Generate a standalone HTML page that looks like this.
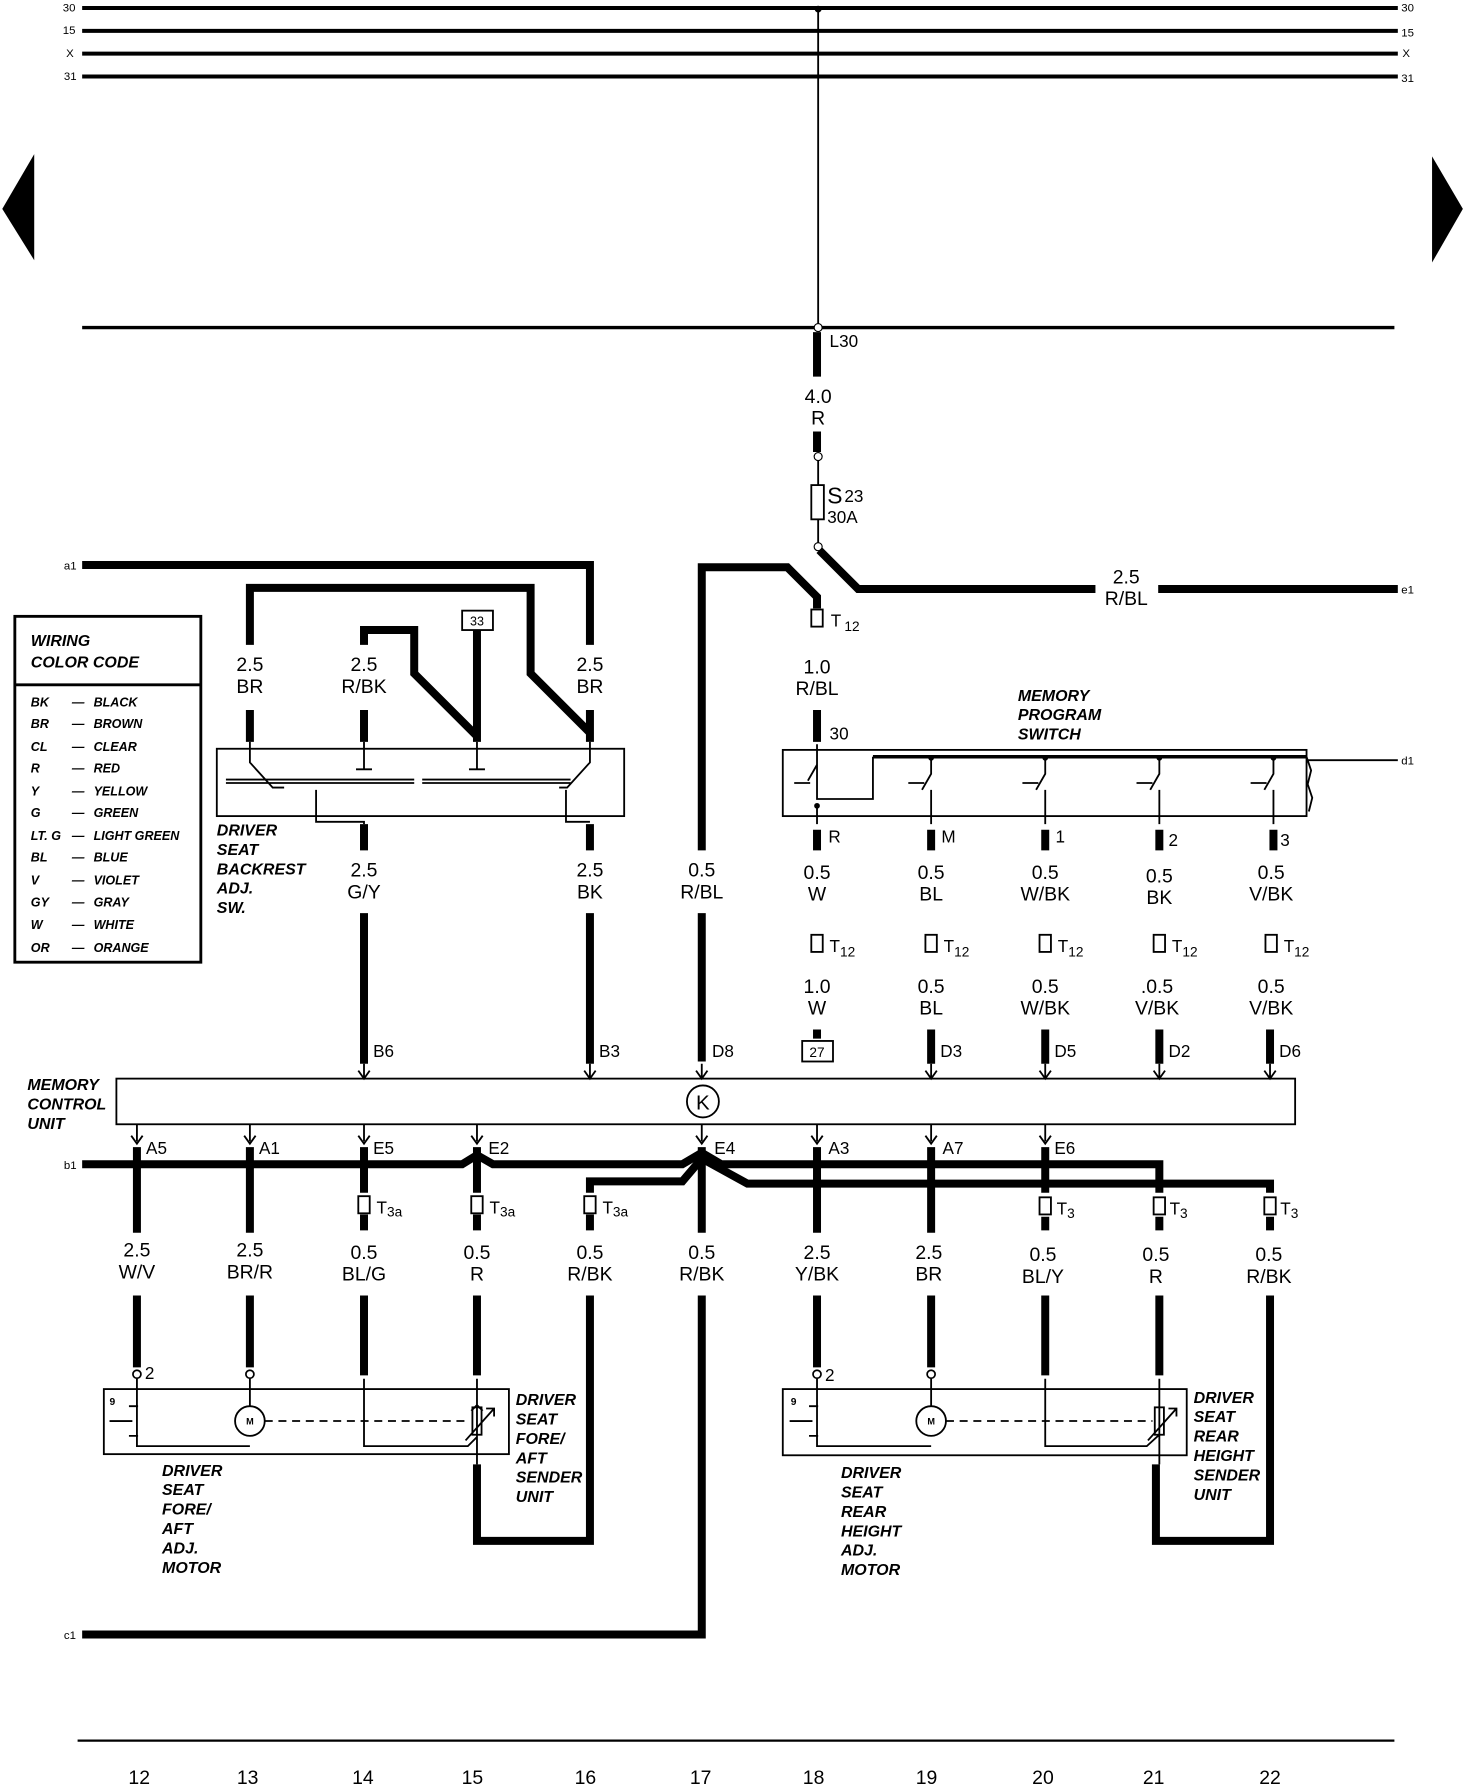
<!DOCTYPE html>
<html><head><meta charset="utf-8"><style>
html,body{margin:0;padding:0;background:#fff}
svg{display:block}
text{font-family:"Liberation Sans",sans-serif;fill:#000}
.l{font-size:17px;text-anchor:middle}
.s{font-size:15px}
.i{font-size:14px;font-weight:bold;font-style:italic}
.g{font-size:11px;font-weight:bold;font-style:italic}
.t{stroke:#000;stroke-width:7;fill:none}
.n{stroke:#000;stroke-width:1.6;fill:none}
.b{stroke:#000;stroke-width:3.5;fill:none}
</style></head><body>
<svg width="1472" height="1784" viewBox="0 0 1290 1563" preserveAspectRatio="none" xmlns="http://www.w3.org/2000/svg">
<rect width="1290" height="1563" fill="#fff"/>
<g class="b"><path d="M72 7H1225M72 27H1225M72 47H1225M72 67H1225"/></g>
<g font-size="10"><text x="55" y="10">30</text><text x="55" y="30">15</text><text x="58" y="50">X</text><text x="56" y="70">31</text>
<text x="1228" y="10">30</text><text x="1228" y="32">15</text><text x="1229" y="50">X</text><text x="1228" y="72">31</text></g>
<path class="n" d="M717 7V287"/><circle cx="717" cy="8" r="3"/>
<polygon points="2,183 30,135 30,228"/><polygon points="1255,137 1282,183 1255,230"/>
<path d="M72 287H1222" stroke="#000" stroke-width="3"/>
<circle cx="717" cy="287" r="3.5" fill="#fff" stroke="#000"/>
<path class="t" d="M716 291V330M716 378V396"/>
<text x="727" y="304" class="s">L30</text>
<text x="717" y="353" class="l">4.0</text><text x="717" y="372" class="l">R</text>
<circle cx="717" cy="400" r="3.5" fill="#fff" stroke="#000"/>
<path class="n" d="M717 403V425M717 455V476"/><rect x="711" y="425" width="11" height="30" class="n"/>
<text x="725" y="441" font-size="20">S</text><text x="740" y="440" class="s">23</text><text x="725" y="458" class="s">30A</text>
<circle cx="717" cy="479" r="3.5" fill="#fff" stroke="#000"/>
<path class="t" d="M718 482L752 516H960M1015 516H1225"/>
<text x="987" y="511" class="l">2.5</text><text x="987" y="530" class="l">R/BL</text>
<text x="1228" y="520" font-size="10">e1</text>
<path class="t" d="M615 745V497H690L716 523V533M615 800V930"/>
<rect x="711" y="534" width="10" height="15" class="n"/><text x="728" y="549" class="s">T</text><text x="740" y="553" font-size="12">12</text>
<text x="716" y="590" class="l">1.0</text><text x="716" y="609" class="l">R/BL</text>
<path class="t" d="M716 622V650"/><text x="727" y="648" class="s">30</text>
<text x="892" y="614" class="i">MEMORY</text><text x="892" y="631" class="i">PROGRAM</text><text x="892" y="648" class="i">SWITCH</text>
<rect x="686" y="657" width="459" height="58" class="n"/>
<path d="M765 663H1145" stroke="#000" stroke-width="3"/>
<path class="n" d="M1145 666H1225M716 652V700H765V663M1145 663l4 12-3 12 4 12-3 12"/>
<text x="1228" y="670" font-size="10">d1</text>
<g class="n">
<path d="M816 663V678l-8 14M916 663V678l-8 14M1016 663V678l-8 14M1116 663V678l-8 14M716 670l-8 14"/>
<path d="M696 686h14M796 686h14M896 686h14M996 686h14M1096 686h14"/>
<path d="M716 705V722M816 692V722M916 692V722M1016 692V722M1116 692V722"/>
</g>
<g fill="#000"><circle cx="816" cy="664" r="2.5"/><circle cx="916" cy="664" r="2.5"/><circle cx="1016" cy="664" r="2.5"/><circle cx="1116" cy="664" r="2.5"/><circle cx="716" cy="706" r="2.5"/></g>
<path class="t" d="M716 727V745M816 727V745M916 727V745M1016 727V745M1116 727V745"/>
<g class="s"><text x="726" y="738">R</text><text x="825" y="738">M</text><text x="925" y="738">1</text><text x="1024" y="741">2</text><text x="1122" y="741">3</text></g>
<g class="l">
<text x="716" y="770">0.5</text><text x="716" y="789">W</text>
<text x="816" y="770">0.5</text><text x="816" y="789">BL</text>
<text x="916" y="770">0.5</text><text x="916" y="789">W/BK</text>
<text x="1016" y="773">0.5</text><text x="1016" y="792">BK</text>
<text x="1114" y="770">0.5</text><text x="1114" y="789">V/BK</text>
<text x="716" y="870">1.0</text><text x="716" y="889">W</text>
<text x="816" y="870">0.5</text><text x="816" y="889">BL</text>
<text x="916" y="870">0.5</text><text x="916" y="889">W/BK</text>
<text x="1014" y="870">.0.5</text><text x="1014" y="889">V/BK</text>
<text x="1114" y="870">0.5</text><text x="1114" y="889">V/BK</text>
</g>
<g class="n"><rect x="711" y="819" width="10" height="15"/><rect x="811" y="819" width="10" height="15"/><rect x="911" y="819" width="10" height="15"/><rect x="1011" y="819" width="10" height="15"/><rect x="1109" y="819" width="10" height="15"/></g>
<g class="s"><text x="727" y="834">T<tspan font-size="12" dy="4">12</tspan></text><text x="827" y="834">T<tspan font-size="12" dy="4">12</tspan></text><text x="927" y="834">T<tspan font-size="12" dy="4">12</tspan></text><text x="1027" y="834">T<tspan font-size="12" dy="4">12</tspan></text><text x="1125" y="834">T<tspan font-size="12" dy="4">12</tspan></text></g>
<path class="t" d="M716 902V910M816 902V932M916 902V932M1016 902V932M1113 902V932M319 800V932M517 800V932"/>
<rect x="703" y="912" width="27" height="18" class="n"/><text x="716" y="926" font-size="12" text-anchor="middle">27</text>
<g class="n"><path d="M319 932V945M314 938l5 7 5-7M517 932V945M512 938l5 7 5-7M615 932V945M610 938l5 7 5-7M816 932V945M811 938l5 7 5-7M916 932V945M911 938l5 7 5-7M1016 932V945M1011 938l5 7 5-7M1113 932V945M1108 938l5 7 5-7"/></g>
<g class="s"><text x="327" y="926">B6</text><text x="525" y="926">B3</text><text x="624" y="926">D8</text><text x="824" y="926">D3</text><text x="924" y="926">D5</text><text x="1024" y="926">D2</text><text x="1121" y="926">D6</text></g>
<rect x="102" y="945" width="1033" height="40" class="n"/>
<circle cx="616" cy="965" r="14" class="n"/><text x="616" y="972" text-anchor="middle" font-size="18">K</text>
<text x="24" y="955" class="i">MEMORY</text><text x="24" y="972" class="i">CONTROL</text><text x="24" y="989" class="i">UNIT</text>
<g class="n"><path d="M120 985V1000M115 995l5 7 5-7M219 985V1000M214 995l5 7 5-7M319 985V1000M314 995l5 7 5-7M418 985V1000M413 995l5 7 5-7M615 985V1000M610 995l5 7 5-7M716 985V1000M711 995l5 7 5-7M816 985V1000M811 995l5 7 5-7M916 985V1000M911 995l5 7 5-7"/></g>
<g class="s"><text x="128" y="1011">A5</text><text x="227" y="1011">A1</text><text x="327" y="1011">E5</text><text x="428" y="1011">E2</text><text x="626" y="1011">E4</text><text x="726" y="1011">A3</text><text x="826" y="1011">A7</text><text x="924" y="1011">E6</text></g>
<text x="56" y="1024" font-size="10">b1</text>
<path class="t" d="M72 1020H405L418 1012L432 1020H598L615 1010L632 1020H1016V1045"/>
<path class="t" d="M517 1045V1035H598L615 1015L655 1037H1113V1045"/>
<path class="t" d="M120 1005V1080M219 1005V1080M319 1005V1045M418 1005V1045M615 1005V1080M615 1135V1432H72M716 1005V1080M816 1005V1080M916 1005V1045M319 1064V1078M418 1064V1078M517 1064V1078M916 1066V1078M1016 1066V1078M1113 1066V1078"/>
<text x="56" y="1436" font-size="10">c1</text>
<g class="n" fill="#fff"><rect x="314" y="1048" width="10" height="15"/><rect x="413" y="1048" width="10" height="15"/><rect x="512" y="1048" width="10" height="15"/><rect x="911" y="1049" width="10" height="15"/><rect x="1011" y="1049" width="10" height="15"/><rect x="1108" y="1049" width="10" height="15"/></g>
<g class="s"><text x="330" y="1063">T<tspan font-size="12" dy="3">3a</tspan></text><text x="429" y="1063">T<tspan font-size="12" dy="3">3a</tspan></text><text x="528" y="1063">T<tspan font-size="12" dy="3">3a</tspan></text><text x="926" y="1064">T<tspan font-size="12" dy="3">3</tspan></text><text x="1025" y="1064">T<tspan font-size="12" dy="3">3</tspan></text><text x="1122" y="1064">T<tspan font-size="12" dy="3">3</tspan></text></g>
<g class="l">
<text x="120" y="1101">2.5</text><text x="120" y="1120">W/V</text>
<text x="219" y="1101">2.5</text><text x="219" y="1120">BR/R</text>
<text x="319" y="1103">0.5</text><text x="319" y="1122">BL/G</text>
<text x="418" y="1103">0.5</text><text x="418" y="1122">R</text>
<text x="517" y="1103">0.5</text><text x="517" y="1122">R/BK</text>
<text x="615" y="1103">0.5</text><text x="615" y="1122">R/BK</text>
<text x="716" y="1103">2.5</text><text x="716" y="1122">Y/BK</text>
<text x="814" y="1103">2.5</text><text x="814" y="1122">BR</text>
<text x="914" y="1105">0.5</text><text x="914" y="1124">BL/Y</text>
<text x="1013" y="1105">0.5</text><text x="1013" y="1124">R</text>
<text x="1112" y="1105">0.5</text><text x="1112" y="1124">R/BK</text>
</g>
<path class="t" d="M120 1135V1198M219 1135V1198M319 1135V1205M418 1135V1205M517 1135V1350H418V1283M716 1135V1198M816 1135V1198M916 1135V1205M1016 1135V1205M1113 1135V1350H1013V1283"/>
<rect x="91" y="1217" width="355" height="57" class="n"/>
<g fill="#fff" stroke="#000" stroke-width="1.5"><circle cx="120" cy="1204" r="3.5"/><circle cx="219" cy="1204" r="3.5"/><circle cx="716" cy="1204" r="3.5"/><circle cx="816" cy="1204" r="3.5"/></g>
<text x="127" y="1208" class="s">2</text><text x="723" y="1210" class="s">2</text>
<path class="n" d="M120 1208V1267H219M219 1208V1232M319 1208V1267H410l8-8M418 1208V1283M413 1236l5-5 5 5M113 1232h8M113 1258h8M96 1245h20"/>
<path class="n" d="M716 1208V1267H816M816 1208V1232M916 1208V1267H1005l11-10M1016 1208V1283M709 1232h8M709 1258h8M692 1245h20"/>
<circle cx="219" cy="1245" r="13" class="n"/><text x="219" y="1248" text-anchor="middle" font-size="8" font-weight="bold">M</text>
<circle cx="816" cy="1245" r="13" class="n"/><text x="816" y="1248" text-anchor="middle" font-size="8" font-weight="bold">M</text>
<path d="M232 1245H410M829 1245H1010" stroke="#000" stroke-width="1.5" stroke-dasharray="7,5"/>
<rect x="414" y="1233" width="8" height="24" class="n" fill="#fff"/><path class="n" d="M408 1262l25-28M426 1234h7v7"/>
<rect x="1012" y="1233" width="8" height="24" class="n" fill="#fff"/><path class="n" d="M1006 1262l25-28M1024 1234h7v7"/>
<text x="96" y="1231" font-size="9" font-weight="bold">9</text><text x="693" y="1231" font-size="9" font-weight="bold">9</text>
<g class="i">
<text x="452" y="1231">DRIVER</text><text x="452" y="1248">SEAT</text><text x="452" y="1265">FORE/</text><text x="452" y="1282">AFT</text><text x="452" y="1299">SENDER</text><text x="452" y="1316">UNIT</text>
<text x="142" y="1293">DRIVER</text><text x="142" y="1310">SEAT</text><text x="142" y="1327">FORE/</text><text x="142" y="1344">AFT</text><text x="142" y="1361">ADJ.</text><text x="142" y="1378">MOTOR</text>
<text x="1046" y="1229">DRIVER</text><text x="1046" y="1246">SEAT</text><text x="1046" y="1263">REAR</text><text x="1046" y="1280">HEIGHT</text><text x="1046" y="1297">SENDER</text><text x="1046" y="1314">UNIT</text>
<text x="737" y="1295">DRIVER</text><text x="737" y="1312">SEAT</text><text x="737" y="1329">REAR</text><text x="737" y="1346">HEIGHT</text><text x="737" y="1363">ADJ.</text><text x="737" y="1380">MOTOR</text>
</g>
<rect x="686" y="1217" width="354" height="58" class="n"/>
<text x="56" y="499" font-size="10">a1</text>
<path class="t" d="M72 495H517V565M219 565V515H465V590L517 642V650M219 622V650M517 622V650M319 565V552H363V590L418 645V650M319 622V650M418 552V645M319 722V745M517 722V745"/>
<rect x="405" y="535" width="27" height="17" class="n"/><text x="418" y="548" font-size="11" text-anchor="middle">33</text>
<g class="l"><text x="219" y="588">2.5</text><text x="219" y="607">BR</text><text x="319" y="588">2.5</text><text x="319" y="607">R/BK</text><text x="517" y="588">2.5</text><text x="517" y="607">BR</text>
<text x="319" y="768">2.5</text><text x="319" y="787">G/Y</text><text x="517" y="768">2.5</text><text x="517" y="787">BK</text><text x="615" y="768">0.5</text><text x="615" y="787">R/BL</text></g>
<rect x="190" y="656" width="357" height="59" class="n"/>
<path class="n" d="M219 650V668l20 22h10M319 650V674M312 674h14M418 650V674M411 674h14M517 650V668l-20 22h-7M277 692V720H319V722M496 692V720H517M198 686h165M370 686h130M198 683h165M370 683h130"/>
<g class="i"><text x="190" y="732">DRIVER</text><text x="190" y="749">SEAT</text><text x="190" y="766">BACKREST</text><text x="190" y="783">ADJ.</text><text x="190" y="800">SW.</text></g>
<rect x="13" y="540" width="163" height="303" fill="none" stroke="#000" stroke-width="2.5"/>
<path d="M13 600H176" stroke="#000" stroke-width="2.5"/>
<text x="27" y="566" class="i" font-size="15">WIRING</text><text x="27" y="585" class="i" font-size="15">COLOR CODE</text>
<g class="g">
<text x="27" y="619">BK</text><text x="63" y="619">—</text><text x="82" y="619">BLACK</text>
<text x="27" y="638">BR</text><text x="63" y="638">—</text><text x="82" y="638">BROWN</text>
<text x="27" y="658">CL</text><text x="63" y="658">—</text><text x="82" y="658">CLEAR</text>
<text x="27" y="677">R</text><text x="63" y="677">—</text><text x="82" y="677">RED</text>
<text x="27" y="697">Y</text><text x="63" y="697">—</text><text x="82" y="697">YELLOW</text>
<text x="27" y="716">G</text><text x="63" y="716">—</text><text x="82" y="716">GREEN</text>
<text x="27" y="736">LT. G</text><text x="63" y="736">—</text><text x="82" y="736">LIGHT GREEN</text>
<text x="27" y="755">BL</text><text x="63" y="755">—</text><text x="82" y="755">BLUE</text>
<text x="27" y="775">V</text><text x="63" y="775">—</text><text x="82" y="775">VIOLET</text>
<text x="27" y="794">GY</text><text x="63" y="794">—</text><text x="82" y="794">GRAY</text>
<text x="27" y="814">W</text><text x="63" y="814">—</text><text x="82" y="814">WHITE</text>
<text x="27" y="834">OR</text><text x="63" y="834">—</text><text x="82" y="834">ORANGE</text>
</g>
<path d="M68 1525H1222" stroke="#000" stroke-width="2"/>
<g class="l"><text x="122" y="1563">12</text><text x="217" y="1563">13</text><text x="318" y="1563">14</text><text x="414" y="1563">15</text><text x="513" y="1563">16</text><text x="614" y="1563">17</text><text x="713" y="1563">18</text><text x="812" y="1563">19</text><text x="914" y="1563">20</text><text x="1011" y="1563">21</text><text x="1113" y="1563">22</text></g>
</svg>
</body></html>
